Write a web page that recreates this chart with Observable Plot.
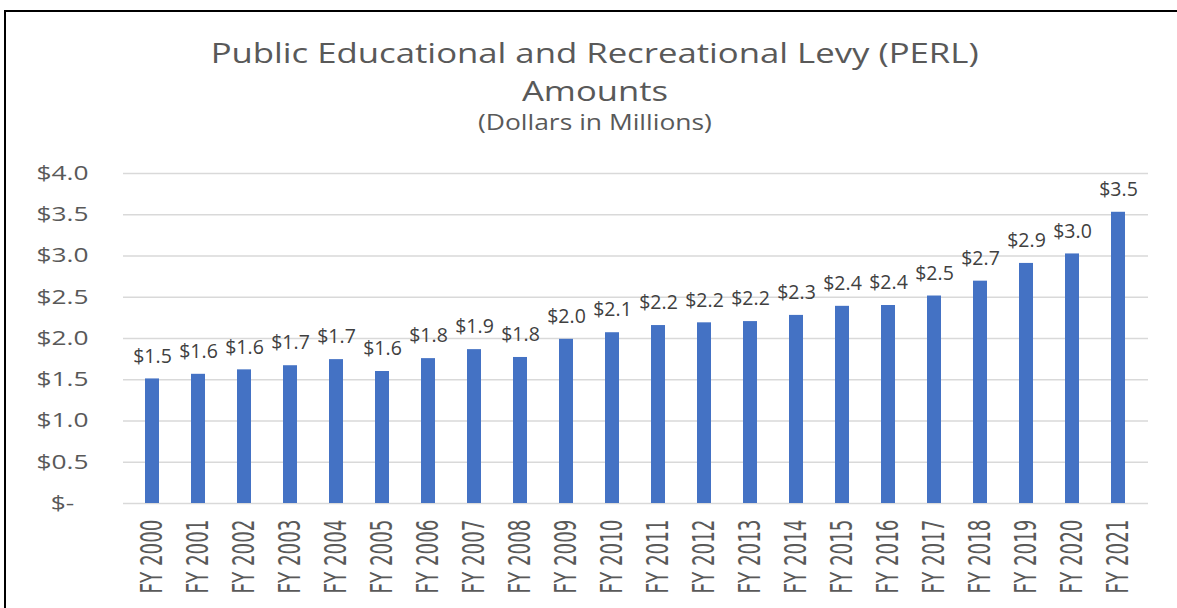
<!DOCTYPE html>
<html><head><meta charset="utf-8">
<script src="https://cdn.jsdelivr.net/npm/d3@7"></script>
<script src="https://cdn.jsdelivr.net/npm/@observablehq/plot@0.6"></script>
<style>
body{margin:0;background:#fff;overflow:hidden;width:1177px;height:608px;position:relative;font-family:"Open Sans",sans-serif;}
#frame{position:absolute;left:4px;top:10px;width:1300px;height:800px;border-top:2px solid #000;border-left:2px solid #000;}
.t{position:absolute;left:0;width:1190px;text-align:center;color:#595959;white-space:nowrap;line-height:1;}
.t span{display:inline-block;transform-origin:center;}
#chart{position:absolute;left:0;top:150px;}
</style></head><body>
<div id="frame"></div>
<div class="t" id="t1" style="top:39px;font-size:27px"><span>Public Educational and Recreational Levy (PERL)</span></div>
<div class="t" id="t2" style="top:77px;font-size:27px"><span>Amounts</span></div>
<div class="t" id="t3" style="top:112px;font-size:21px"><span>(Dollars in Millions)</span></div>
<div id="chart"></div>
<script>
const years = ["FY 2000","FY 2001","FY 2002","FY 2003","FY 2004","FY 2005","FY 2006","FY 2007","FY 2008","FY 2009","FY 2010","FY 2011","FY 2012","FY 2013","FY 2014","FY 2015","FY 2016","FY 2017","FY 2018","FY 2019","FY 2020","FY 2021"];
const amounts = [1.51,1.566,1.62,1.67,1.744,1.60,1.756,1.865,1.77,1.99,2.07,2.157,2.19,2.205,2.28,2.39,2.40,2.515,2.695,2.91,3.025,3.53];
const yTicks = [0,0.5,1.0,1.5,2.0,2.5,3.0,3.5,4.0];

const f1 = d3.format(".1f");
const fmtY = v => v === 0 ? "$-" : "$" + f1(v);
const fmtLabel = v => "$" + f1(v);
const data = years.map((y, i) => ({year: y, amount: amounts[i]}));

const chart = Plot.plot({
  width: 1177, height: 458,
  marginLeft: 123, marginRight: 29, marginTop: 23, marginBottom: 105,
  style: {background: "transparent", overflow: "visible", color: "#595959"},
  x: {domain: years, paddingInner: 0.687, paddingOuter: 0.3435, label: null},
  y: {domain: [0, 4], label: null},
  marks: [
    Plot.gridY(yTicks, {stroke: "#d9d9d9", strokeOpacity: 1, strokeWidth: 1.6}),
    Plot.barY(data, {x: "year", y: "amount", fill: "#4472C4"}),
    Plot.text(data, {x: "year", y: "amount", text: d => fmtLabel(d.amount), dy: -22.5, lineAnchor: "middle", fill: "#404040", fontSize: 19.5, fontFamily: "Open Sans"}),
    Plot.axisY(yTicks, {tickSize: 0, tickPadding: 61, textAnchor: "middle", tickFormat: fmtY, fontSize: 20, fontFamily: "Open Sans", label: null}),
    Plot.axisX({tickSize: 0, tickRotate: -90, tickPadding: 16, fontSize: 30, fontFamily: "Liberation Sans Narrow, DejaVu Sans Condensed, sans-serif", label: null})
  ]
});
document.getElementById("chart").appendChild(chart);

function fit(sel, targetForFirst) {
  const els = Array.from(chart.querySelectorAll(sel));
  if (!els.length) return;
  const base = els[els.length - 1].getComputedTextLength();
  const k = targetForFirst / base;
  els.forEach(el => {
    const L = el.getComputedTextLength();
    el.setAttribute("textLength", (L * k).toFixed(2));
    el.setAttribute("lengthAdjust", "spacingAndGlyphs");
  });
}
fit('g[aria-label="x-axis tick label"] text', 74);
fit('g[aria-label="y-axis tick label"] text', 52);

[["t1", 768], ["t2", 146], ["t3", 234]].forEach(([id, w]) => {
  const s = document.querySelector("#" + id + " span");
  const cw = s.getBoundingClientRect().width;
  s.style.transform = "scaleX(" + (w / cw).toFixed(4) + ")";
});
</script>
</body></html>
